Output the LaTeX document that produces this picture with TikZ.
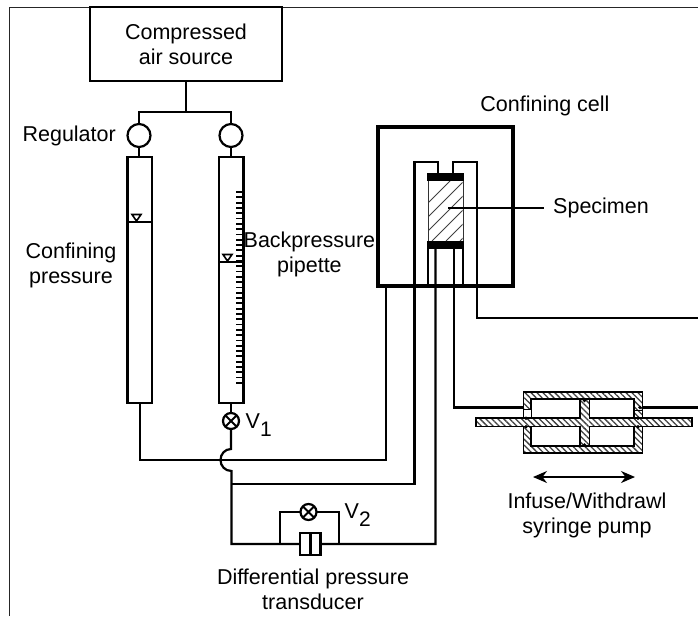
\documentclass[tikz,border=0pt]{standalone}
\usepackage{fontspec}
\setmainfont{Liberation Sans}
\usetikzlibrary{patterns.meta,arrows.meta,calc}
\tikzset{
  x=1pt,y=-1pt,
  wire/.style={line width=2.2pt,line join=miter},
  lab/.style={font=\fontsize{21.5}{25}\selectfont,inner sep=0pt,align=center},
  box/.style={draw,line width=2.2pt,inner sep=0pt,outer sep=0pt,anchor=north west},
  reg/.style={circle,draw,line width=2.2pt,minimum size=23pt,inner sep=0pt,outer sep=0pt},
  valve/.style={circle,draw,line width=2.2pt,minimum size=16pt,inner sep=0pt,outer sep=0pt,
    path picture={\draw[line width=1.9pt] (path picture bounding box.north west)--(path picture bounding box.south east)
      (path picture bounding box.north east)--(path picture bounding box.south west);}},
  capblk/.style={fill=black,draw=none,inner sep=0pt,outer sep=0pt,anchor=north west},
  hatchfill/.style={pattern={Lines[angle=-45,distance=4.2pt,line width=1.3pt]},pattern color=black!75},
  hatchd/.style={hatchfill,draw,line width=1.5pt,inner sep=0pt,outer sep=0pt,anchor=north west},
  lvl/.style={draw,line width=1.6pt,fill=white}
}
\begin{document}
\begin{tikzpicture}
\useasboundingbox (0,0) rectangle (698,616);
\draw[line width=1.3pt,black!85] (9.3,616)--(9.3,7.3)--(698,7.3);
% source
\node[box,minimum width=192pt,minimum height=74pt] (src) at (90,7.3) {};
\node[lab] (srct) at (186,44.5) {Compressed\\air source};
% regulators
\coordinate (tee) at (186,112);
\node[reg] (r1) at (139,135.5) {};
\node[reg] (r2) at (231,135.5) {};
\draw[wire] (src.south -| tee) -- (tee);
\draw[wire] (r1.north) -- (139,112) -- (231,112) -- (r2.north);
% pipettes
\node[box,minimum width=24.5pt,minimum height=246pt] (p1) at (127.5,157) {};
\node[box,minimum width=24.5pt,minimum height=246pt] (p2) at (219,157) {};
\draw[wire] (r1.south) -- (r1.south |- p1.north);
\draw[wire] (r2.south) -- (r2.south |- p2.north);
\draw[line width=1.6pt] (p1.west |- 0,222) -- (p1.east |- 0,222);
\draw[line width=1.6pt] (p2.west |- 0,262) -- (p2.east |- 0,262);
\draw[lvl] (132,214.5) -- (141,214.5) -- (136.5,221) -- cycle;
\draw[lvl] (223,254.5) -- (232,254.5) -- (227.5,261) -- cycle;
\foreach \yy in {192,197.3,...,384} \draw[line width=1.8pt] (236,\yy) -- (243,\yy);
% cell
\node[box,line width=4pt,minimum width=135.5pt,minimum height=159pt] (cell) at (377.5,127) {};
\draw[wire] (414.5,286) -- (414.5,162) -- (438,162) -- (438,173);
\draw[wire] (477,286) -- (477,162) -- (453,162) -- (453,173);
\node[capblk,minimum width=36.5pt,minimum height=8pt] (captop) at (427,173) {};
\node[capblk,minimum width=36.5pt,minimum height=8pt] (capbot) at (427,240.5) {};
\begin{scope}
\clip (428.5,181) rectangle (462.5,241);
\foreach \s in {0,14,...,112} \draw[line width=0.8pt,black!75] (390+\s,241) -- (390+\s+62,179);
\end{scope}
\node[draw=none,minimum width=35pt,minimum height=60pt,inner sep=0pt,outer sep=0pt,anchor=north west] (spec) at (428,180.5) {};
\draw[line width=1pt,black!80] (spec.north west)--(spec.south west) (spec.north east)--(spec.south east);
\draw[wire] (428,248) -- (428,286) (463,248) -- (463,286);
% specimen label
\node[lab,anchor=west] (speclab) at (553,208) {Specimen};
\coordinate (specpt) at (448,208);
\draw[line width=1.1pt] (specpt) -- (speclab.west -| 544,0);
\node[lab] (celllab) at (545,106) {Confining cell};
% pump
\node[hatchd,minimum width=119pt,minimum height=61pt] (pump) at (523.3,392) {};
\node[draw,line width=1.5pt,fill=white,minimum width=103pt,minimum height=47pt,inner sep=0pt,outer sep=0pt,anchor=north west] (pumpin) at (531,399) {};
\fill[white,draw=black,line width=1pt] (523.3,409.5) rectangle (531,418);
\draw[line width=1pt] (634,410) -- (642.3,410);
\node[draw=none,fill=white,minimum width=9.5pt,minimum height=47pt,inner sep=0pt,outer sep=0pt,anchor=north west] (piston0) at (580,399) {};
\node[hatchd,minimum width=9.5pt,minimum height=47pt] (piston) at (580,399) {};
\node[draw=none,fill=white,minimum width=216pt,minimum height=8.5pt,inner sep=0pt,outer sep=0pt,anchor=north west] (rod0) at (476,418.2) {};
\node[hatchd,minimum width=216pt,minimum height=8.5pt] (rod) at (476,418.2) {};
\fill[white] (580.8,417) rectangle (588.7,428);
\fill[hatchfill] (580.8,417) rectangle (588.7,428);
\foreach \px/\py in {584.5/400.5,584.5/445,526/418.2,526/426.7,638/418.2,638/426.7,640/407.5}
  \fill (\px,\py) circle (1.9pt);
\draw[wire] (454,286) -- (454,407.5) -- (pump.west |- 0,407.5);
\draw[wire] (pump.east |- 0,407.5) -- (698,407.5);
\draw[wire] (477,286) -- (477,318) -- (698,318);
\draw[line width=1.6pt,{Stealth[length=14pt,width=12pt,inset=4.5pt]}-{Stealth[length=14pt,width=12pt,inset=4.5pt]}] (533,477) -- (635,477);
\node[lab] (pumplab) at (587,515) {Infuse/Withdrawl\\syringe pump};
% lower wiring
\node[valve] (v1) at (231,421) {};
\node[lab] (v1l) at (259,425) {V\textsubscript{\fontsize{21}{21}\selectfont 1}};
\draw[wire] (p2.south -| v1) -- (v1.north);
\draw[wire] (v1.south) -- (231,449) .. controls (225,449) and (220.5,454) .. (220.5,460) .. controls (220.5,466) and (225,471) .. (231.5,471) -- (231.5,544) -- (435.5,544) -- (435.5,248);
\draw[wire] (454,248) -- (454,286);
\draw[wire] (p1.south -| 140,0) -- (140,460) -- (386,460) -- (386,286);
\draw[wire] (231.5,484) -- (414.5,484) -- (414.5,286);
\node[valve] (v2) at (308.5,512) {};
\node[lab] (v2l) at (358,515) {V\textsubscript{\fontsize{21}{21}\selectfont 2}};
\draw[wire] (280,544) -- (280,512) -- (v2.west);
\draw[wire] (339,544) -- (339,512) -- (v2.east);
\node[box,fill=white,minimum width=20.5pt,minimum height=22pt] (dp) at (300,533) {};
\draw[line width=2.6pt] (dp.north) -- (dp.south);
\node[lab] (dpl) at (313,589) {Differential pressure\\transducer};
% labels
\node[lab,anchor=east] (reglab) at (116,136) {Regulator};
\node[lab] (cpl) at (71,265) {Confining\\pressure};
\node[lab,anchor=west] (bpl) at (243.5,254) {Backpressure\\pipette};
\end{tikzpicture}
\end{document}
